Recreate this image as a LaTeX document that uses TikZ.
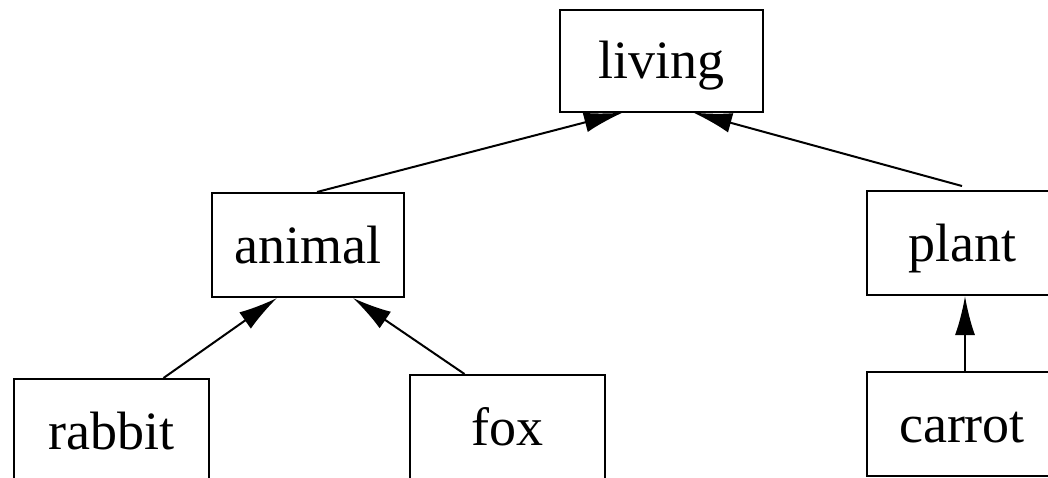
\documentclass[tikz,border=0pt]{standalone}
\usepackage{fontspec}
\setmainfont{Liberation Serif}
\usetikzlibrary{arrows.meta,calc}
\tikzset{
  box/.style={draw=black, line width=2pt, rectangle, inner sep=0pt,
    minimum height=104pt, text height=40pt, text depth=4pt,
    font=\fontsize{54pt}{60pt}\selectfont},
  edge/.style={draw=black, line width=2pt, -{Latex[length=39pt,width=20pt]}}
}
\begin{document}
\begin{tikzpicture}[x=1pt,y=-1pt]
\useasboundingbox (0,0) rectangle (1048,477);
\clip (0,0) rectangle (1048,477);
\node[box, minimum width=203pt, minimum height=102pt] (living) at (661,60.5) {living};
\node[box, minimum width=192pt] (animal) at (308,245) {animal};
\node[box, minimum width=190pt] (plant) at (962,243) {plant};
\node[box, minimum width=195pt] (rabbit) at (111.5,431) {rabbit};
\node[box, minimum width=195pt] (fox) at (507.5,427) {fox};
\node[box, minimum width=190pt] (carrot) at (962,424) {carrot};
\draw[edge] ($(animal.north)+(9,0)$) -- ($(living.south)+(-38,0)$);
\draw[edge] ($(plant.north)+(0,-4)$) -- ($(living.south)+(32,0)$);
\draw[edge] ($(rabbit.north)+(52,0)$) -- ($(animal.south)+(-31,0)$);
\draw[edge] ($(fox.north)+(-43,0)$) -- ($(animal.south)+(45,0)$);
\draw[edge] ($(carrot.north)+(3,0)$) -- ($(plant.south)+(3,0)$);
\end{tikzpicture}
\end{document}
